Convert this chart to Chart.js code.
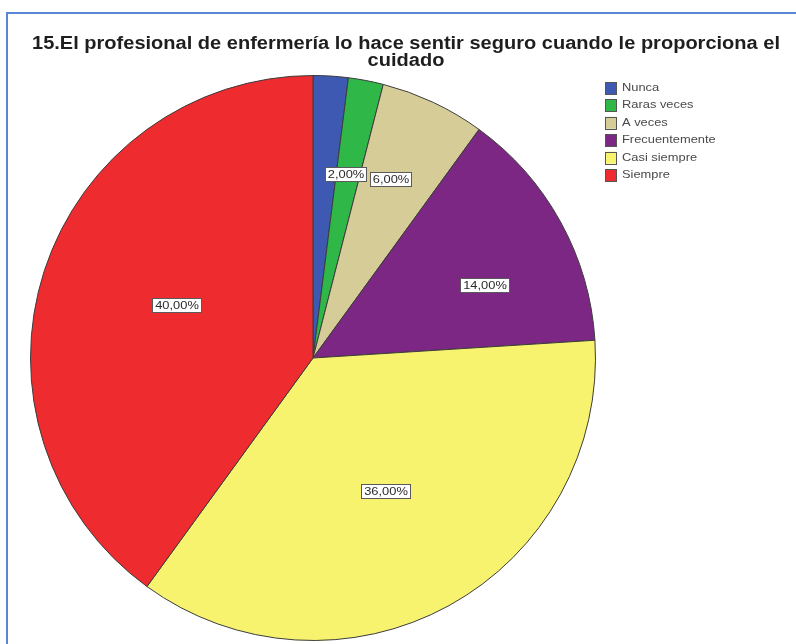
<!DOCTYPE html>
<html>
<head>
<meta charset="utf-8">
<script src="https://cdn.jsdelivr.net/npm/chart.js@4.4.1/dist/chart.umd.min.js"></script>
<style>
  html, body { margin: 0; padding: 0; background: #ffffff; }
  #frame {
    position: absolute; left: 6px; top: 12px; width: 790px; height: 632px;
    border-top: 2px solid #5b86d6; border-left: 2px solid #5b86d6;
    box-sizing: border-box;
  }
  #c { position: absolute; left: 0; top: 0; }
</style>
</head>
<body>
<div id="frame"></div>
<canvas id="c" width="796" height="644"></canvas>
<script>
// Survey item 15: perceived safety while receiving nursing care
const titleLines = [
  '15.El profesional de enfermería lo hace sentir seguro cuando le proporciona el',
  'cuidado'
];
const categories = ['Nunca', 'Raras veces', 'A veces', 'Frecuentemente', 'Casi siempre', 'Siempre'];
const percentages = [2, 2, 6, 14, 36, 40];
const sliceColors = ['#3d59b1', '#2fb847', '#d6cc98', '#7b2783', '#f8f36e', '#ee2b2e'];

const fmtPct = v => v.toFixed(2).replace('.', ',') + '%';
const TEXT_STRETCH = 1.17;   // glyphs are drawn slightly wide

function wideText(ctx, txt, x, y, sx) {
  ctx.save();
  ctx.translate(x, y);
  ctx.scale(sx, 1);
  ctx.fillText(txt, 0, 0);
  ctx.restore();
}

// Two-line bold heading above the pie
const titlePlugin = {
  id: 'heading',
  afterDraw(chart) {
    const ctx = chart.ctx;
    ctx.save();
    ctx.fillStyle = '#1e1e1e';
    ctx.font = 'bold 18px "Liberation Sans", Arial, sans-serif';
    ctx.textAlign = 'center';
    ctx.textBaseline = 'middle';
    const w0 = ctx.measureText(titleLines[0]).width;
    const sx = 748 / w0;
    wideText(ctx, titleLines[0], 406, 44, sx);
    wideText(ctx, titleLines[1], 406, 61, sx);
    ctx.restore();
  }
};

// Legend list at the upper right with coloured swatches
const legendPlugin = {
  id: 'sideLegend',
  afterDraw(chart) {
    const ctx = chart.ctx;
    const ds = chart.data.datasets[0];
    ctx.save();
    ctx.font = '11px "Liberation Sans", Arial, sans-serif';
    ctx.textBaseline = 'middle';
    ctx.textAlign = 'left';
    chart.data.labels.forEach((lab, i) => {
      const y = 88 + i * 17.4;
      ctx.fillStyle = ds.backgroundColor[i];
      ctx.fillRect(605, y - 6, 11, 12);
      ctx.strokeStyle = '#555555';
      ctx.lineWidth = 1;
      ctx.strokeRect(605.5, Math.round(y - 6) + 0.5, 11, 12);
      ctx.fillStyle = '#4a4a4a';
      wideText(ctx, lab, 622, y, TEXT_STRETCH);
    });
    ctx.restore();
  }
};

// Boxed percentage labels inside the slices; a label that would cover
// one already drawn is left out
const valueBoxPlugin = {
  id: 'valueBoxes',
  afterDatasetsDraw(chart, args, opts) {
    const ctx = chart.ctx;
    const meta = chart.getDatasetMeta(0);
    const values = chart.data.datasets[0].data;
    const placed = [];
    const tol = 5;
    ctx.save();
    ctx.font = '11px "Liberation Sans", Arial, sans-serif';
    ctx.textAlign = 'center';
    ctx.textBaseline = 'middle';
    for (let i = meta.data.length - 1; i >= 0; i--) {
      const arc = meta.data[i];
      const p = arc.getProps(['x', 'y', 'startAngle', 'endAngle', 'outerRadius']);
      const mid = (p.startAngle + p.endAngle) / 2 + opts.turn[i] * Math.PI / 180;
      const f = opts.radius[i];
      const cx = p.x + Math.cos(mid) * p.outerRadius * f;
      const cy = p.y + Math.sin(mid) * p.outerRadius * f;
      const txt = fmtPct(values[i]);
      const w = Math.round(ctx.measureText(txt).width * TEXT_STRETCH) + 6;
      const h = 15;
      const box = { x: Math.round(cx - w / 2), y: Math.round(cy - h / 2), w, h };
      const hit = placed.some(b => box.x < b.x + b.w - tol && box.x + box.w - tol > b.x &&
                                   box.y < b.y + b.h - tol && box.y + box.h - tol > b.y);
      if (hit) continue;
      placed.push(box);
      ctx.fillStyle = '#ffffff';
      ctx.fillRect(box.x, box.y, w, h);
      ctx.strokeStyle = '#5a5a5a';
      ctx.lineWidth = 1;
      ctx.strokeRect(box.x + 0.5, box.y + 0.5, w - 1, h - 1);
      ctx.fillStyle = '#2b2b2b';
      wideText(ctx, txt, box.x + w / 2, box.y + h / 2 + 0.5, TEXT_STRETCH);
    }
    ctx.restore();
  }
};

new Chart(document.getElementById('c'), {
  type: 'pie',
  data: {
    labels: categories,
    datasets: [{
      data: percentages,
      backgroundColor: sliceColors,
      borderColor: '#3c3c3c',
      borderWidth: 1
    }]
  },
  options: {
    responsive: false,
    animation: false,
    layout: { padding: { left: 30, top: 75, right: 200, bottom: 3 } },
    plugins: {
      legend: { display: false },
      title: { display: false },
      tooltip: { enabled: false },
      valueBoxes: {
        radius: [0.66, 0.66, 0.69, 0.66, 0.54, 0.515],
        turn: [0, -0.5, -1.5, 6, 0, 3]
      }
    }
  },
  plugins: [titlePlugin, legendPlugin, valueBoxPlugin]
});
</script>
</body>
</html>
